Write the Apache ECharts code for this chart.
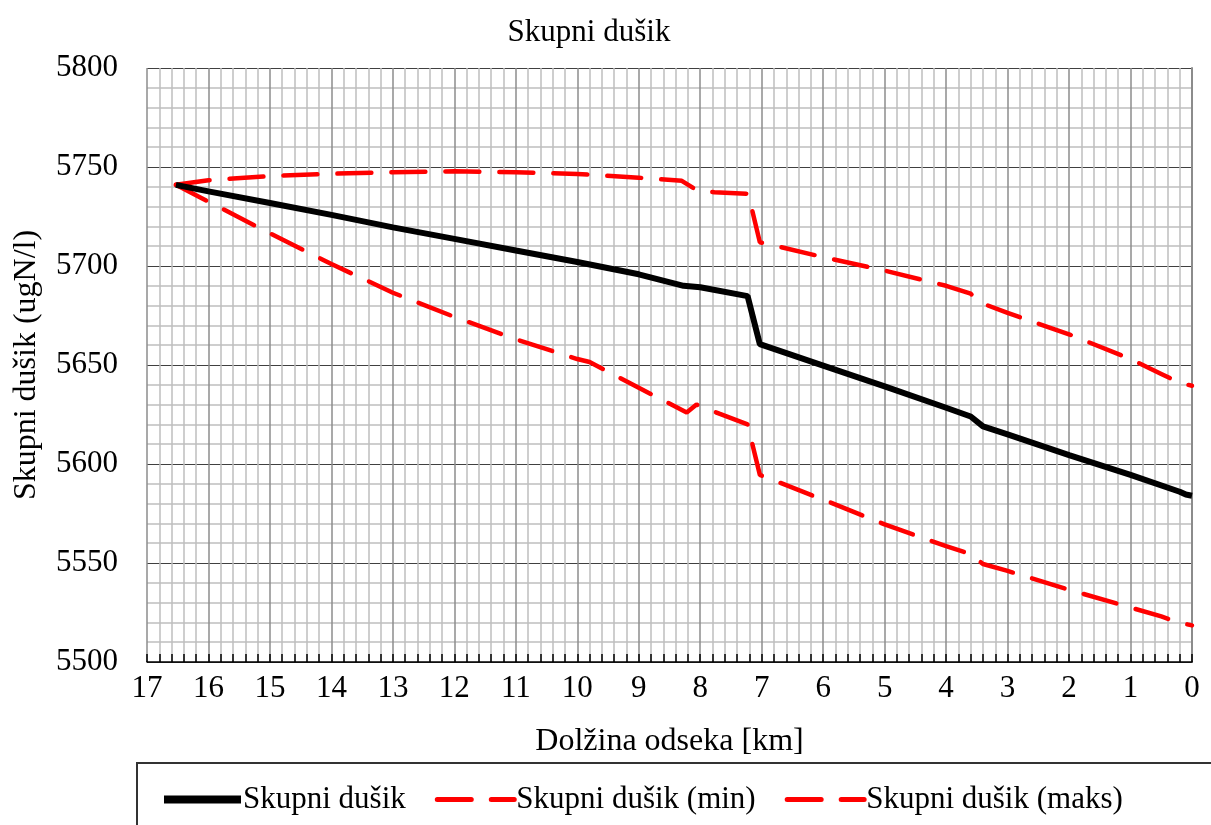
<!DOCTYPE html>
<html>
<head>
<meta charset="utf-8">
<script src="https://cdn.jsdelivr.net/npm/echarts@6/dist/echarts.min.js"></script>
<style>
    html, body { margin: 0; padding: 0; background: #fff; }
    #chart { width: 1211px; height: 825px; }
</style>
</head>
<body>
<div id="chart"></div>
<script>
// podatki (km, ugN/l)
const seriesNames = ['Skupni dušik', 'Skupni dušik (min)', 'Skupni dušik (maks)'];

const kmMean = [16.53, 16, 15, 14, 13, 12, 11, 10, 9, 8.27, 8.0, 7.23, 7.03, 6, 5, 4, 3.6, 3.4, 3, 2, 1, 0.2, 0.1, 0];
const nMean = [5741, 5737.7, 5731.8, 5725.8, 5719.5, 5713.7, 5707.8, 5702, 5695.8, 5690, 5689.3, 5684.8, 5660.5, 5649.7, 5639.2, 5628.4, 5624, 5619, 5615, 5604.5, 5594.5, 5586, 5584.6, 5584];

const kmMin = [16.53, 16, 15, 14, 13, 12, 11, 10, 9.8, 9, 8.22, 8.06, 7.68, 7.23, 7.03, 6, 5, 4, 3.6, 3.4, 3, 2, 1, 0.5, 0.2, 0];
const nMin = [5741, 5732.5, 5716.5, 5701, 5686.5, 5674.3, 5663, 5653, 5651.5, 5638.5, 5626, 5630, 5625.3, 5620, 5594.5, 5582, 5569.5, 5558.5, 5554.5, 5549.5, 5546, 5536.5, 5527.5, 5523, 5519.8, 5518.5];

const kmMax = [16.53, 16, 15, 14, 13, 12, 11, 10, 9, 8.3, 8.05, 7.77, 7.22, 7.03, 6, 5, 4, 3.6, 3.4, 3, 2, 1, 0.5, 0.2, 0];
const nMax = [5741, 5743.3, 5745.4, 5746.6, 5747.4, 5747.8, 5747.4, 5746.5, 5744.6, 5743, 5738.2, 5737.2, 5736.5, 5712, 5704.5, 5697.7, 5690, 5686, 5681, 5676.3, 5665.5, 5653, 5645.5, 5641, 5639.5];

const yTicks = { min: 5500, max: 5800, step: 50 };
const xTicks = { min: 0, max: 17, step: 1 };

const FONT = 'Liberation Serif';

function pairs(xs, ys) {
    return xs.map((x, i) => [x, ys[i]]);
}

const chart = echarts.init(document.getElementById('chart'));

const option = {
    animation: false,
    backgroundColor: '#fff',
    title: {
        text: 'Skupni dušik',
        left: 584,
        top: 12,
        textAlign: 'center',
        textStyle: { fontFamily: FONT, fontSize: 31, fontWeight: 'normal', color: '#000' }
    },
    grid: { left: 147, right: 19, top: 68, bottom: 163 },
    legend: {
        left: 160,
        top: 784,
        padding: 0,
        itemWidth: 77,
        itemHeight: 14,
        itemGap: 29,
        itemStyle: { opacity: 0 },
        textStyle: { fontFamily: FONT, fontSize: 31, color: '#000', padding: [0, 0, 0, -3] },
        data: [
            { name: seriesNames[0], lineStyle: { width: 8 } },
            { name: seriesNames[1], lineStyle: { width: 5 } },
            { name: seriesNames[2], lineStyle: { width: 5 } }
        ]
    },
    graphic: [{
        type: 'rect',
        shape: { x: 137, y: 763, width: 1200, height: 100 },
        style: { fill: 'none', stroke: '#333', lineWidth: 2 },
        silent: true
    }],
    xAxis: {
        type: 'value',
        inverse: true,
        min: xTicks.min,
        max: xTicks.max,
        interval: xTicks.step,
        name: 'Dolžina odseka [km]',
        nameLocation: 'middle',
        nameGap: 64,
        nameTextStyle: { fontFamily: FONT, fontSize: 32, color: '#000' },
        axisLine: { show: true, onZero: false, lineStyle: { color: '#000', width: 1.5 } },
        axisTick: { show: true, inside: true, length: 8, lineStyle: { color: '#000', width: 1.5 } },
        minorTick: { show: true, splitNumber: 5, length: 8, lineStyle: { color: '#000', width: 1.5 } },
        axisLabel: { fontFamily: FONT, fontSize: 31, color: '#000', margin: 11 },
        splitLine: { show: true, lineStyle: { color: '#8c8c8c', width: 1.5 } },
        minorSplitLine: { show: true, lineStyle: { color: '#bfbfbf', width: 1.5 } }
    },
    yAxis: {
        type: 'value',
        min: yTicks.min,
        max: yTicks.max,
        interval: yTicks.step,
        name: 'Skupni dušik (ugN/l)',
        nameLocation: 'middle',
        nameGap: 104,
        nameTextStyle: { fontFamily: FONT, fontSize: 32, color: '#000' },
        axisLine: { show: true, lineStyle: { color: '#8c8c8c', width: 2 } },
        axisTick: { show: false },
        minorTick: { show: false, splitNumber: 5 },
        axisLabel: { fontFamily: FONT, fontSize: 31, color: '#000', margin: 29, formatter: v => String(v) },
        splitLine: { show: true, lineStyle: { color: '#404040', width: 1.2 } },
        minorSplitLine: { show: true, lineStyle: { color: '#bfbfbf', width: 1.5 } }
    },
    series: [
        {
            name: seriesNames[0],
            type: 'line',
            z: 5,
            symbol: 'none',
            lineStyle: { color: '#000', width: 6 },
            itemStyle: { color: '#000' },
            data: pairs(kmMean, nMean)
        },
        {
            name: seriesNames[1],
            type: 'line',
            z: 3,
            symbol: 'none',
            lineStyle: { color: '#ff0000', width: 4.5, type: [34, 20], cap: 'round' },
            itemStyle: { color: '#ff0000' },
            data: pairs(kmMin, nMin)
        },
        {
            name: seriesNames[2],
            type: 'line',
            z: 3,
            symbol: 'none',
            lineStyle: { color: '#ff0000', width: 4.5, type: [34, 20], cap: 'round' },
            itemStyle: { color: '#ff0000' },
            data: pairs(kmMax, nMax)
        }
    ]
};

chart.setOption(option);
</script>
</body>
</html>
